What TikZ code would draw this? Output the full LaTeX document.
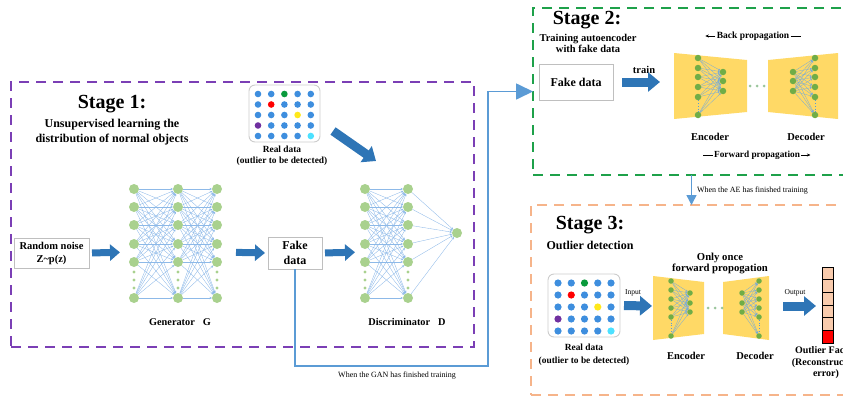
\documentclass[tikz,border=0pt]{standalone}
\usepackage{fontspec}
\setmainfont{Liberation Serif}
\usetikzlibrary{arrows.meta,calc}
\pgfdeclarelayer{back}
\pgfdeclarelayer{bg}
\pgfsetlayers{back,bg,main}
\definecolor{pur}{HTML}{7B3FB5}
\definecolor{grn}{HTML}{1EA14A}
\definecolor{org}{HTML}{F6B48A}
\definecolor{arrblue}{HTML}{2E75B6}
\definecolor{lineblue}{HTML}{5B9BD5}
\definecolor{edgeblue}{HTML}{8DB9E8}
\definecolor{ngreen}{HTML}{A9D18E}
\definecolor{dgreen}{HTML}{70AD47}
\definecolor{aeyellow}{HTML}{FFD966}
\definecolor{peach}{HTML}{F8CBAD}
\definecolor{boxgray}{HTML}{BFBFBF}
\definecolor{cb}{HTML}{3E8EDE}
\definecolor{cg}{HTML}{0A9A3C}
\definecolor{cr}{HTML}{FF0000}
\definecolor{cy}{HTML}{FFE81A}
\definecolor{cp}{HTML}{7030A0}
\definecolor{cc}{HTML}{4DE1FF}
\newcommand\myfs[2]{\fontsize{#1pt}{#2pt}\selectfont}
\def\datapat{{cb,cb,cg,cb,cb},{cb,cr,cb,cb,cb},{cb,cb,cb,cy,cb},{cp,cb,cb,cb,cb},{cb,cb,cb,cb,cc}}
\begin{document}
\begin{tikzpicture}[x=1pt,y=-1pt,
  every node/.style={inner sep=0pt, outer sep=0pt},
  stagebox/.style={draw, line width=1.7pt, dash pattern=on 10pt off 7pt},
  bigarrow/.style={draw=arrblue, line width=7pt, -{Triangle[length=10pt,width=16pt]}},
  bigarrowb/.style={draw=arrblue, line width=9pt, -{Triangle[length=12pt,width=19pt]}},
  conn/.style={draw=lineblue, line width=1.7pt},
  gbox/.style={draw=boxgray, fill=white, line width=0.8pt, align=center},
  panel/.style={draw=black!20, fill=white, rounded corners=6pt, line width=0.9pt},
  nn/.style={circle, fill=ngreen, minimum size=10pt},
  an/.style={circle, fill=dgreen, minimum size=6.5pt},
  bn/.style={circle, fill=dgreen, minimum size=5.5pt},
  edge/.style={draw=edgeblue, line width=0.35pt, -{Stealth[length=2.5pt,width=2.2pt]}},
  aedge/.style={draw=lineblue!85, line width=0.3pt, -{Stealth[length=2pt,width=2.2pt]}},
  dotl/.style={draw=lineblue, dotted, line width=0.8pt},
  cell/.style={draw=black, line width=0.6pt, minimum width=11pt, minimum height=12.67pt},
]
\useasboundingbox (0,0) rectangle (843,399);
\clip (0,0) rectangle (843,399);

% ---------------- stage boxes ----------------
\node[stagebox, draw=pur, minimum width=463pt, minimum height=265pt] (s1) at (242.5,214.5) {};
\node[stagebox, draw=grn, minimum width=317pt, minimum height=167pt] (s2) at (691.5,91.5) {};
\node[stagebox, draw=org, minimum width=321pt, minimum height=190pt] (s3) at (691.5,300) {};

% ---------------- Stage 1 ----------------
\node[font=\bfseries\myfs{20}{22}] (t1) at (112,104) {Stage 1:};
\node[align=center, font=\bfseries\myfs{12}{15}] (t1s) at (112,132) {Unsupervised learning the\\distribution of normal objects};

\node[panel, minimum width=71pt, minimum height=57pt] (real1) at (284.5,113.5) {};
\foreach \cl [count=\r] in \datapat {
  \foreach \c [count=\k] in \cl {
    \fill[\c] ({258+(\k-1)*13.2},{94+(\r-1)*10.5}) circle (3.3pt);
  }
}
\node[align=center, font=\bfseries\myfs{9.4}{11.5}] (real1t) at (282,155.5) {Real data\\(outlier to be detected)};

\node[gbox, minimum width=75pt, minimum height=30pt, font=\bfseries\myfs{10.5}{13}] (rn) at (51.5,253) {Random noise\\Z\textasciitilde p(z)};

\foreach \i/\y in {1/189,2/207,3/225,4/244,5/262,6/298}{
  \node[nn] (ga\i) at (134,\y) {};
  \node[nn] (gb\i) at (178,\y) {};
  \node[nn] (gc\i) at (217,\y) {};
  \node[nn] (da\i) at (365,\y) {};
  \node[nn] (db\i) at (408,\y) {};
}
\node[nn] (dout) at (457,233) {};
\begin{pgfonlayer}{bg}
\foreach \i in {1,...,6}{
  \foreach \j in {1,...,6}{
    \draw[edge] (ga\i) -- (gb\j);
    \draw[edge] (gb\i) -- (gc\j);
    \draw[edge] (da\i) -- (db\j);
  }
  \draw[edge] (db\i) -- (dout);
}
\end{pgfonlayer}
\foreach \x in {134,178,217,365,408}{
  \foreach \y in {272,280,288}{\fill[ngreen] (\x,\y) circle (1.7pt);}
}
\node[font=\bfseries\myfs{10.3}{12}] (gl) at (180,322) {Generator\hspace{8pt}G};
\node[font=\bfseries\myfs{10.3}{12}] (dl) at (407,322) {Discriminator\hspace{8pt}D};

\node[gbox, minimum width=54pt, minimum height=32pt, font=\bfseries\myfs{12}{15}] (fake1) at (295,253) {Fake\\data};

\coordinate (gin) at (134,252);
\coordinate (gout) at (217,252);
\coordinate (din) at (365,252);
\draw[bigarrow, shorten <=3pt, shorten >=14pt] (rn.east) -- (gin);
\draw[bigarrow, shorten <=19pt, shorten >=3pt] (gout) -- (fake1.west);
\draw[bigarrow, shorten <=3pt, shorten >=10pt] (fake1.east) -- (din);

\coordinate (da0) at (333,131);
\coordinate (da9) at (376,161);
\draw[bigarrowb] (da0) -- (da9);

% connector GAN -> stage 2
\coordinate (c1) at (488,366);
\draw[conn, -{Triangle[length=17pt,width=16pt]}] (fake1.south) |- (c1) |- (s2.west);
\node[font=\myfs{8}{9}] (gant) at (397,376) {When the GAN has finished training};

% ---------------- Stage 2 ----------------
\node[font=\bfseries\myfs{20}{22}] (t2) at (587,20) {Stage 2:};
\node[align=center, font=\bfseries\myfs{10.5}{11.5}] (t2s) at (588,43.5) {Training autoencoder\\with fake data};
\node[gbox, minimum width=74pt, minimum height=36pt, font=\bfseries\myfs{12}{15}] (fake2) at (576,82) {Fake data};
\node[font=\bfseries\myfs{10.5}{12}] (train) at (644,70) {train};
\coordinate (e2in) at (674,82);
\draw[bigarrowb, shorten <=9pt, shorten >=14pt] (fake2.east) -- (e2in);

\begin{pgfonlayer}{back}
\fill[aeyellow] (674,53) -- (747,60) -- (747,112) -- (674,119) -- cycle;
\fill[aeyellow] (768,60) -- (838,53) -- (838,119) -- (768,112) -- cycle;
\fill[aeyellow] (653,276) -- (704,282) -- (704,334) -- (653,340) -- cycle;
\fill[aeyellow] (723,282) -- (769,276) -- (769,340) -- (723,334) -- cycle;
\end{pgfonlayer}

\foreach \i/\y in {1/58,2/68,3/77,4/87,5/97,6/115}{
  \node[an] (ea\i) at (698,\y) {};
  \node[an] (dd\i) at (815,\y) {};
}
\foreach \i/\y in {1/72,2/81,3/91}{
  \node[an] (eb\i) at (723,\y) {};
  \node[an] (dc\i) at (793,\y) {};
}
\begin{pgfonlayer}{bg}
\foreach \i in {1,...,6}{
  \foreach \j in {1,2,3}{
    \draw[aedge] (ea\i) -- (eb\j);
    \draw[aedge] (dc\j) -- (dd\i);
  }
}
\draw[dotl] (ea5) -- (ea6);
\draw[dotl] (dd5) -- (dd6);
\end{pgfonlayer}
\foreach \x in {750,757,764}{\fill[ngreen!80!lineblue] (\x,86) circle (1.5pt);}
\node[font=\bfseries\myfs{10.5}{12}] (enc2) at (710,137) {Encoder};
\node[font=\bfseries\myfs{10.5}{12}] (dec2) at (806,137) {Decoder};

\node[font=\bfseries\myfs{9.5}{11}] (bp) at (753,36) {Back propagation};
\draw[line width=0.6pt, -{Stealth[length=3.5pt,width=3pt]}] ([xshift=-1.5pt]bp.west) -- ++(-10,0);
\draw[line width=0.6pt] ([xshift=1.5pt]bp.east) -- ++(10,0);
\node[font=\bfseries\myfs{9.3}{11}] (fp) at (757,155) {Forward propagation};
\draw[line width=0.6pt] ([xshift=-1.5pt]fp.west) -- ++(-10,0);
\draw[line width=0.6pt, -{Stealth[length=3.5pt,width=3pt]}] ([xshift=1.5pt]fp.east) -- ++(9,0);

% AE -> stage 3
\draw[conn, line width=1.5pt, -{Triangle[length=10pt,width=10pt]}] (s2.south) -- (s3.north);
\node[anchor=west, font=\myfs{8}{9}] (aet) at (697,191) {When the AE has finished training};

% ---------------- Stage 3 ----------------
\node[font=\bfseries\myfs{20}{22}] (t3) at (590,225) {Stage 3:};
\node[font=\bfseries\myfs{12}{14}] (t3s) at (590,245) {Outlier detection};

\node[panel, minimum width=72pt, minimum height=63pt] (real3) at (584,305.5) {};
\foreach \cl [count=\r] in \datapat {
  \foreach \c [count=\k] in \cl {
    \fill[\c] ({558+(\k-1)*13.25},{283+(\r-1)*12}) circle (3.6pt);
  }
}
\node[align=center, font=\bfseries\myfs{9.4}{12.5}] (real3t) at (584,354.5) {Real data\\(outlier to be detected)};

\node[font=\myfs{7.5}{9}] (inp) at (633,293) {Input};
\coordinate (e3in) at (653,306);
\draw[bigarrowb, shorten <=4pt, shorten >=1pt] (real3.east) -- (e3in);

\node[align=center, font=\bfseries\myfs{10.7}{11.5}] (once) at (720,263.5) {Only once\\forward propogation};

\foreach \i/\y in {1/281,2/290,3/299,4/308,5/317,6/336}{
  \node[bn] (fa\i) at (671,\y) {};
  \node[bn] (fd\i) at (759,\y) {};
}
\foreach \i/\y in {1/293,2/303,3/312}{
  \node[bn] (fb\i) at (690,\y) {};
  \node[bn] (fc\i) at (742,\y) {};
}
\begin{pgfonlayer}{bg}
\foreach \i in {1,...,6}{
  \foreach \j in {1,2,3}{
    \draw[aedge] (fa\i) -- (fb\j);
    \draw[aedge] (fc\j) -- (fd\i);
  }
}
\draw[dotl] (fa5) -- (fa6);
\draw[dotl] (fd5) -- (fd6);
\end{pgfonlayer}
\foreach \x in {708,715,722}{\fill[ngreen!80!lineblue] (\x,308) circle (1.5pt);}
\node[font=\bfseries\myfs{10.5}{12}] (enc3) at (686,356) {Encoder};
\node[font=\bfseries\myfs{10.5}{12}] (dec3) at (755,356) {Decoder};

\node[font=\myfs{7.5}{9}] (outp) at (795,293) {Output};
\coordinate (d3out) at (769,306);
\coordinate (colin) at (822,306);
\draw[bigarrowb, shorten <=14pt, shorten >=6pt] (d3out) -- (colin);

\foreach \i in {0,...,4}{
  \node[cell, fill=peach] (of\i) at (827.5,{273.3+\i*12.67}) {};
}
\node[cell, fill=cr] (of5) at (827.5,{273.3+5*12.67}) {};
\node[align=center, font=\bfseries\myfs{10}{11.5}] (oft) at (826,363) {Outlier Factor\\(Reconstruction\\error)};

\end{tikzpicture}
\end{document}
